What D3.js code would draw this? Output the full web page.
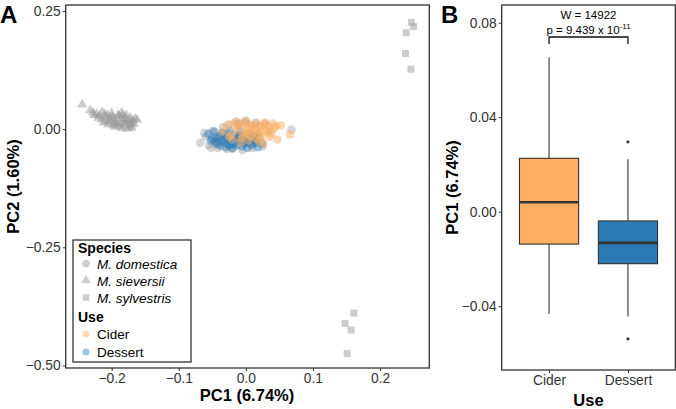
<!DOCTYPE html>
<html>
<head>
<meta charset="utf-8">
<script src="https://cdn.jsdelivr.net/npm/d3@7"></script>
<style>
  body { margin: 0; background: #fff; }
  svg { font-family: "Liberation Sans", Arial, sans-serif; }
</style>
</head>
<body>
<div class="container"></div>
<script>
// ---- panel A data (PC1, PC2) ----
var sievX = [-0.244,-0.232,-0.228,-0.222,-0.218,-0.214,-0.210,-0.206,-0.203,-0.200,-0.197,-0.194,-0.190,-0.188,-0.185,-0.182,-0.180,-0.178,-0.175,-0.172,-0.170,-0.168,-0.165,-0.162,-0.215,-0.205,-0.195,-0.185,-0.176,-0.170,-0.200,-0.190,-0.180,-0.226,-0.208,
             -0.220,-0.212,-0.202,-0.196,-0.192,-0.186,-0.181,-0.177,-0.173,-0.167,-0.198,-0.188,-0.183,-0.171,-0.210];
var sievY = [0.052,0.040,0.035,0.032,0.028,0.036,0.025,0.030,0.018,0.034,0.022,0.012,0.028,0.015,0.035,0.020,0.008,0.030,0.014,0.024,0.003,0.018,0.022,0.020,0.020,0.010,0.005,0.002,0.001,0.010,0.026,0.030,0.022,0.030,0.016,
             0.024,0.014,0.022,0.016,0.010,0.024,0.012,0.018,0.006,0.012,0.008,0.006,0.030,0.016,0.032];

var sylvX = [0.247,0.250,0.239,0.238,0.246,0.161,0.148,0.157,0.151];
var sylvY = [0.226,0.217,0.204,0.160,0.127,-0.389,-0.411,-0.425,-0.475];

var grayX = [-0.068,-0.060,-0.055,-0.050,-0.046,-0.042,-0.038,-0.034,-0.030,-0.025,-0.020,-0.015,-0.010,-0.005,0.000,0.005,0.010,0.015,0.020,0.025,0.030,0.035,0.068,-0.062,-0.052,-0.040,-0.012,-0.002,0.008,0.018,-0.048,-0.028];
var grayY = [-0.029,-0.016,-0.034,-0.004,-0.024,-0.040,-0.012,0.004,-0.030,0.010,-0.042,0.016,0.012,-0.044,0.018,0.010,-0.040,0.014,0.006,-0.036,0.012,-0.004,-0.001,-0.008,-0.040,-0.020,0.006,0.014,-0.030,-0.010,-0.030,-0.042];

var dessX = [-0.056,-0.050,-0.047,-0.044,-0.040,-0.038,-0.035,-0.033,-0.030,-0.028,-0.026,-0.024,-0.022,-0.020,-0.018,-0.016,-0.014,-0.012,-0.010,-0.008,-0.006,-0.004,-0.002,0.000,0.002,0.004,0.006,0.008,0.010,0.013,0.016,0.020,0.024,-0.045,-0.036,-0.027,-0.019,-0.011,-0.003,0.005,-0.030,-0.015,0.000,-0.042,-0.022,-0.008,0.012,-0.052,-0.025,0.018];
var dessY = [-0.010,-0.020,-0.005,-0.028,-0.015,-0.035,-0.008,-0.024,-0.038,-0.016,-0.030,-0.004,-0.020,-0.040,-0.012,-0.028,-0.034,-0.018,-0.025,-0.006,-0.036,-0.022,-0.030,-0.014,-0.040,-0.026,-0.018,-0.034,-0.022,-0.030,-0.026,-0.018,-0.030,-0.018,-0.026,-0.010,-0.032,-0.014,-0.028,-0.008,-0.020,-0.022,-0.024,-0.032,-0.026,-0.015,-0.014,-0.024,-0.034,-0.038];

var cidX = [-0.035,-0.028,-0.022,-0.018,-0.014,-0.010,-0.006,-0.003,0.000,0.003,0.006,0.009,0.012,0.015,0.018,0.021,0.024,0.027,0.030,0.034,0.038,0.042,0.047,0.052,0.066,-0.020,-0.012,-0.004,0.004,0.010,0.016,0.022,0.028,0.036,0.044,-0.008,0.000,0.008,0.014,0.020,0.032,0.026,0.040,-0.025,0.002];
var cidY = [-0.005,0.008,-0.012,0.012,-0.002,0.005,-0.018,0.010,-0.008,0.002,-0.014,0.008,-0.004,0.012,-0.010,0.004,-0.016,0.010,-0.002,0.006,-0.010,0.002,-0.022,0.008,-0.011,-0.022,0.014,-0.012,-0.024,0.000,-0.020,-0.006,0.014,-0.016,0.006,-0.028,0.016,-0.016,0.004,-0.026,-0.006,-0.030,0.012,-0.016,-0.004];

var xTicksA = [-0.2, -0.1, 0.0, 0.1, 0.2];
var yTicksA = [0.25, 0.00, -0.25, -0.50];

// ---- panel B data (box stats: lower whisker, Q1, median, Q3, upper whisker) ----
var useCats = ["Cider", "Dessert"];
var boxStats = [[-0.0433, -0.0137, 0.0040, 0.0226, 0.0654],
                [-0.0444, -0.0220, -0.0132, -0.0039, 0.0222]];
var outliers = [[], [0.0296, -0.0538]];
var yTicksB = [0.08, 0.04, 0.00, -0.04];
var testW = "W = 14922";
var testP = "p = 9.439 x 10";
var testExp = "-11";

var cidColor = "#FDAE61", dessColor = "#2C7BB6", grayColor = "#999999";
var width = 676, height = 409;

var svg = d3.select(".container").append("svg")
  .attr("width", width).attr("height", height);

function fmtMinus(s) { return s.replace("-", "\u2212"); }

// ================= Panel A =================
var ax0 = 65.7, ax1 = 429.3, ay0 = 5, ay1 = 368;
var x = d3.scaleLinear().domain([-0.2685, 0.2734]).range([ax0, ax1]);
var y = d3.scaleLinear().domain([-0.5053, 0.2627]).range([ay1, ay0]);

var gA = svg.append("g");

var pts = gA.append("g");
// M. sylvestris squares
pts.selectAll("rect.sylv").data(d3.range(sylvX.length)).enter().append("rect")
  .attr("x", function(i) { return x(sylvX[i]) - 3.5; })
  .attr("y", function(i) { return y(sylvY[i]) - 3.5; })
  .attr("width", 7).attr("height", 7)
  .attr("fill", grayColor).attr("fill-opacity", 0.5);
// M. sieversii triangles
var tri = d3.symbol().type(d3.symbolTriangle).size(44);
pts.selectAll("path.siev").data(d3.range(sievX.length)).enter().append("path")
  .attr("d", tri)
  .attr("transform", function(i) { return "translate(" + x(sievX[i]) + "," + y(sievY[i]) + ")"; })
  .attr("fill", grayColor).attr("fill-opacity", 0.5);
// M. domestica circles (no use / dessert / cider)
function dots(xs, ys, col, op) {
  pts.append("g").selectAll("circle").data(d3.range(xs.length)).enter().append("circle")
    .attr("cx", function(i) { return x(xs[i]); })
    .attr("cy", function(i) { return y(ys[i]); })
    .attr("r", 4.3)
    .attr("fill", col).attr("fill-opacity", op);
}
dots(grayX, grayY, grayColor, 0.4);
dots(dessX, dessY, dessColor, 0.45);
dots(cidX, cidY, cidColor, 0.5);

// axes
gA.append("g").attr("transform", "translate(" + ax0 + ",0)")
  .call(d3.axisLeft(y).tickValues(yTicksA).tickSize(3).tickPadding(2)
    .tickFormat(function(d) { return fmtMinus(d3.format(".2f")(d)); }))
  .call(function(g) { g.select(".domain").remove(); });
gA.append("g").attr("transform", "translate(0," + ay1 + ")")
  .call(d3.axisBottom(x).tickValues(xTicksA).tickSize(3).tickPadding(2)
    .tickFormat(function(d) { return fmtMinus(d3.format(".1f")(d)); }))
  .call(function(g) { g.select(".domain").remove(); });

gA.append("rect").attr("x", ax0).attr("y", ay0)
  .attr("width", ax1 - ax0).attr("height", ay1 - ay0)
  .attr("fill", "none").attr("stroke", "#333").attr("stroke-width", 1.3);

gA.append("text").attr("x", 247).attr("y", 401)
  .attr("text-anchor", "middle").attr("font-size", 16.5).attr("font-weight", "bold")
  .text("PC1 (6.74%)");
gA.append("text").attr("transform", "translate(19," + ((ay0 + ay1) / 2) + ") rotate(-90)")
  .attr("text-anchor", "middle").attr("font-size", 16.5).attr("font-weight", "bold")
  .text("PC2 (1.60%)");

// legend
var leg = gA.append("g");
leg.append("rect").attr("x", 73).attr("y", 240).attr("width", 118).attr("height", 122)
  .attr("fill", "#fff").attr("stroke", "#333").attr("stroke-width", 1.3);
var species = ["M. domestica", "M. sieversii", "M. sylvestris"];
leg.append("text").attr("x", 78).attr("y", 253).attr("font-size", 14).attr("font-weight", "bold").text("Species");
species.forEach(function(s, i) {
  var cy = 263.5 + i * 17;
  var sym = i === 0 ? d3.symbolCircle : (i === 1 ? d3.symbolTriangle : d3.symbolSquare);
  leg.append("path").attr("d", d3.symbol().type(sym).size(i === 1 ? 40 : 42))
    .attr("transform", "translate(86," + cy + ")")
    .attr("fill", grayColor).attr("fill-opacity", 0.5);
  leg.append("text").attr("x", 97).attr("y", cy + 5).attr("font-size", 13.5)
    .attr("font-style", "italic").text(s);
});
leg.append("text").attr("x", 78).attr("y", 322).attr("font-size", 14).attr("font-weight", "bold").text("Use");
useCats.forEach(function(s, i) {
  var cy = 334 + i * 18;
  leg.append("circle").attr("cx", 86).attr("cy", cy).attr("r", 3.6)
    .attr("fill", i === 0 ? cidColor : dessColor).attr("fill-opacity", 0.45);
  leg.append("text").attr("x", 97).attr("y", cy + 5).attr("font-size", 13.5).text(s);
});

svg.append("text").attr("x", 0).attr("y", 23).attr("font-size", 24).attr("font-weight", "bold").text("A");

// ================= Panel B =================
var bx0 = 501.7, bx1 = 675.3, by0 = 5, by1 = 370;
var xb = d3.scalePoint().domain(useCats).range([bx0, bx1]).padding(0.6);
var yb = d3.scaleLinear().domain([-0.0670, 0.0875]).range([by1, by0]);
var bw = xb.step() * 0.75;

var gB = svg.append("g");
useCats.forEach(function(c, i) {
  var s = boxStats[i], cx = xb(c);
  gB.append("line").attr("x1", cx).attr("x2", cx).attr("y1", yb(s[3])).attr("y2", yb(s[4]))
    .attr("stroke", "#333").attr("stroke-width", 1.1);
  gB.append("line").attr("x1", cx).attr("x2", cx).attr("y1", yb(s[0])).attr("y2", yb(s[1]))
    .attr("stroke", "#333").attr("stroke-width", 1.1);
  gB.append("rect").attr("x", cx - bw / 2).attr("y", yb(s[3]))
    .attr("width", bw).attr("height", yb(s[1]) - yb(s[3]))
    .attr("fill", i === 0 ? cidColor : dessColor).attr("stroke", "#333").attr("stroke-width", 1.1);
  gB.append("line").attr("x1", cx - bw / 2).attr("x2", cx + bw / 2)
    .attr("y1", yb(s[2])).attr("y2", yb(s[2]))
    .attr("stroke", "#333").attr("stroke-width", 2.6);
  outliers[i].forEach(function(o) {
    gB.append("circle").attr("cx", cx).attr("cy", yb(o)).attr("r", 1.6).attr("fill", "#333");
  });
});

gB.append("g").attr("transform", "translate(" + bx0 + ",0)")
  .call(d3.axisLeft(yb).tickValues(yTicksB).tickSize(3).tickPadding(2)
    .tickFormat(function(d) { return fmtMinus(d3.format(".2f")(d)); }))
  .call(function(g) { g.select(".domain").remove(); });
gB.append("g").attr("transform", "translate(0," + by1 + ")")
  .call(d3.axisBottom(xb).tickSize(3).tickPadding(2))
  .call(function(g) { g.select(".domain").remove(); });

gB.append("rect").attr("x", bx0).attr("y", by0)
  .attr("width", bx1 - bx0).attr("height", by1 - by0)
  .attr("fill", "none").attr("stroke", "#333").attr("stroke-width", 1.3);

// significance bracket
var bl = xb(useCats[0]), br = xb(useCats[1]), byb = 37;
gB.append("path").attr("d", "M" + bl + "," + (byb + 7) + "V" + byb + "H" + br + "V" + (byb + 7))
  .attr("fill", "none").attr("stroke", "#111").attr("stroke-width", 1.3);
gB.append("text").attr("x", (bl + br) / 2).attr("y", 19).attr("text-anchor", "middle")
  .attr("font-size", 11.5).text(testW);
var pt = gB.append("text").attr("x", (bl + br) / 2).attr("y", 33.5).attr("text-anchor", "middle")
  .attr("font-size", 11.5);
pt.append("tspan").text(testP);
pt.append("tspan").attr("font-size", 8).attr("dy", -4.5).text(testExp);

gB.append("text").attr("x", (bx0 + bx1) / 2).attr("y", 406)
  .attr("text-anchor", "middle").attr("font-size", 16.5).attr("font-weight", "bold").text("Use");
gB.append("text").attr("transform", "translate(458," + ((by0 + by1) / 2) + ") rotate(-90)")
  .attr("text-anchor", "middle").attr("font-size", 16.5).attr("font-weight", "bold")
  .text("PC1 (6.74%)");

svg.append("text").attr("x", 441).attr("y", 23).attr("font-size", 24).attr("font-weight", "bold").text("B");

svg.selectAll(".tick text").attr("font-size", 13.8).attr("fill", "#333")
  .attr("font-family", "'Liberation Sans', Arial, sans-serif");
svg.selectAll(".tick line").attr("stroke", "#333");
</script>
</body>
</html>
